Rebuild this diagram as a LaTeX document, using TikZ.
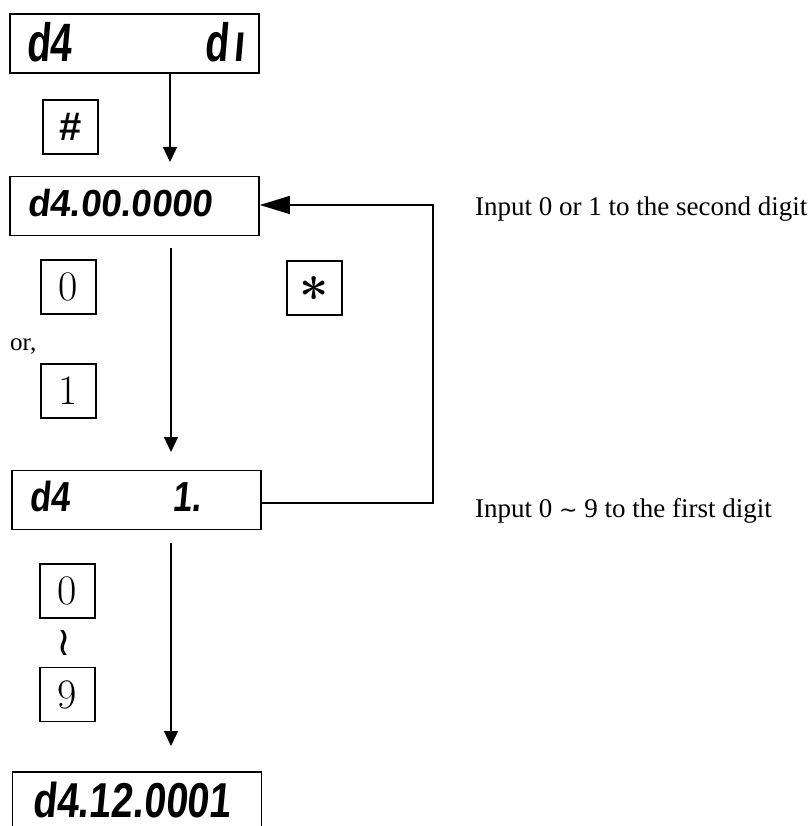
\documentclass[tikz,border=0pt]{standalone}
\usepackage{fontspec}
\usepackage{graphicx}
\newfontfamily\tms{Liberation Serif}
\newfontfamily\seg[FakeSlant=0.12]{Liberation Sans}
\newfontfamily\sans{Liberation Sans}
\newfontfamily\dvs{DejaVu Sans}
\usetikzlibrary{arrows.meta}
\tikzset{
  lcd/.style={draw, line width=1.6pt, minimum width=249pt, minimum height=59pt, inner sep=0pt},
  keybox/.style={draw, line width=1.3pt, minimum width=55pt, minimum height=54pt, inner sep=0pt, font=\fontsize{42}{44}\selectfont},
  segtext/.style={inner sep=0pt, anchor=base west},
  note/.style={inner sep=0pt, anchor=base west, font=\fontsize{27}{30}\selectfont\tms},
  conn/.style={line width=1.3pt},
  downarr/.style={conn, -{Triangle[length=15pt,width=14pt]}},
  backarr/.style={conn, -{Triangle[length=30pt,width=18pt]}}
}
\begin{document}
\begin{tikzpicture}[x=1pt,y=-1pt]
\path[use as bounding box, clip] (0,0) rectangle (808,826);

% displays
\node[lcd] (b1) at (134.5,43.5) {};
\node[lcd] (b2) at (134.5,206) {};
\node[lcd] (b3) at (136.5,500) {};
\node[lcd, minimum height=80pt] (b4) at (137,812) {};

\node[segtext] (b1a) at (26,62) {\fontsize{54}{56}\seg\bfseries\scalebox{0.72}[1]{d4}};
\node[segtext] (b1b) at (204,62) {\fontsize{54}{56}\seg\bfseries\scalebox{0.72}[1]{d\hspace{8pt}ı}};
\node[segtext] (b2a) at (27,217) {\fontsize{37.7}{40}\seg\bfseries\scalebox{0.97}[1]{d4.00.0000}};
\node[segtext] (b3a) at (29,511) {\fontsize{42}{44}\seg\bfseries\scalebox{0.82}[1]{d4}};
\node[segtext] (b3b) at (172,511) {\fontsize{42}{44}\seg\bfseries\scalebox{0.82}[1]{1.}};
\node[segtext] (b4a) at (32,817) {\fontsize{49}{51}\seg\bfseries\scalebox{0.8}[1]{d4.12.0001}};

% keys
\node[keybox, font=\fontsize{40}{42}\selectfont\sans\bfseries] (khash) at (70.5,127) {\#};
\node[keybox] (k0a) at (68.5,287) {0};
\node[keybox, font=\fontsize{52}{54}\selectfont\bfseries] (kstar) at (314.5,288) {\raisebox{-0.53em}[0pt][0pt]{*}};
\node[keybox] (k1) at (68.5,391) {1};
\node[keybox] (k0b) at (67.5,591) {0};
\node[keybox] (k9) at (67.5,694.5) {9};

\node[inner sep=0pt, anchor=base west, font=\fontsize{25}{27}\selectfont\tms] (or) at (10,350) {or,};
\node[inner sep=0pt, font=\fontsize{40}{42}\selectfont\dvs] (wr) at (63.5,643) {≀};

% notes
\node[note] (t1) at (475,215) {Input 0 or 1 to the second digit};
\node[note] (t2) at (475,517) {Input 0 {\dvs\fontsize{22}{24}\selectfont ∼} 9 to the first digit};

% connectors
\coordinate (e1) at (170,162);
\coordinate (s2) at (171,248);
\coordinate (e2) at (171,452);
\coordinate (s3) at (171,543);
\coordinate (e3) at (171,746);
\coordinate (c1) at (433,503);
\coordinate (c2) at (433,205);

\draw[downarr] (b1.south -| e1) -- (e1);
\draw[downarr] (s2) -- (e2);
\draw[downarr] (s3) -- (e3);
\draw[backarr] (b3.east |- c1) -- (c1) -- (c2) -- (b2.east |- c2);
\end{tikzpicture}
\end{document}
